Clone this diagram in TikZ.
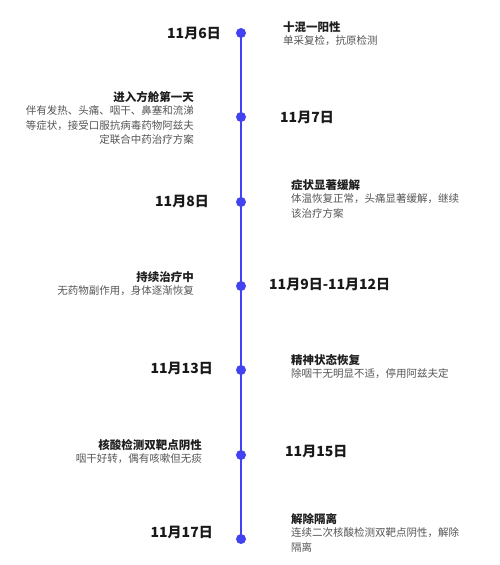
\documentclass[tikz,border=0pt]{standalone}
\usepackage{fontspec}
\setmainfont{Noto Sans CJK SC}
\definecolor{tlblue}{RGB}{66,66,242}
\definecolor{titlec}{RGB}{30,30,30}
\definecolor{bodyc}{RGB}{85,85,85}
\definecolor{datec}{RGB}{25,25,25}
\begin{document}
\begin{tikzpicture}[x=1pt,y=-1pt,
  datelab/.style={font=\fontsize{14}{16}\selectfont\bfseries, text=datec, inner sep=0pt},
  evtitle/.style={font=\fontsize{11.5}{14}\selectfont\bfseries, text=titlec, inner sep=0pt},
  evbody/.style={font=\fontsize{10.5}{14.3}\selectfont, text=bodyc, inner sep=0pt},
  tldot/.style={circle, fill=tlblue, minimum size=10pt, inner sep=0pt}]
\useasboundingbox (0,0) rectangle (500,565);
% dots
\node[tldot] (d1) at (241,33) {};
\node[tldot] (d2) at (241,117) {};
\node[tldot] (d3) at (241,202) {};
\node[tldot] (d4) at (241,286) {};
\node[tldot] (d5) at (241,370) {};
\node[tldot] (d6) at (241,455) {};
\node[tldot] (d7) at (241,539) {};
\draw[tlblue, line width=2.5pt] (d1.center) -- (d7.center);
% dates left
\node[datelab, anchor=east] (t1) at (221,33) {11月6日};
\node[datelab, anchor=east] (t3) at (209,201) {11月8日};
\node[datelab, anchor=east] (t5) at (213,368) {11月13日};
\node[datelab, anchor=east] (t7) at (213,532) {11月17日};
% dates right
\node[datelab, anchor=west] (t2) at (280,117) {11月7日};
\node[datelab, anchor=west] (t4) at (269,284) {11月9日-11月12日};
\node[datelab, anchor=west] (t6) at (285,451) {11月15日};
% right events
\node[evtitle, anchor=west] (r1) at (283,27) {十混一阳性};
\node[evbody, anchor=north west, align=left] (rb1) at ([yshift=-3pt]r1.south west) {单采复检，抗原检测};
\node[evtitle, anchor=west] (r2) at (291,185) {症状显著缓解};
\node[evbody, anchor=north west, align=left] (rb2) at ([yshift=-3pt]r2.south west) {体温恢复正常，头痛显著缓解，继续\\该治疗方案};
\node[evtitle, anchor=west] (r3) at (291,360) {精神状态恢复};
\node[evbody, anchor=north west, align=left] (rb3) at ([yshift=-3pt]r3.south west) {除咽干无明显不适，停用阿兹夫定};
\node[evtitle, anchor=west] (r4) at (291,519) {解除隔离};
\node[evbody, anchor=north west, align=left] (rb4) at ([yshift=-3pt]r4.south west) {连续二次核酸检测双靶点阴性，解除\\隔离};
% left events
\node[evtitle, anchor=east] (l1) at (194,97) {进入方舱第一天};
\node[evbody, anchor=north east, align=right] (lb1) at ([yshift=-3pt]l1.south east) {伴有发热、头痛、咽干、鼻塞和流涕\\等症状，接受口服抗病毒药物阿兹夫\\定联合中药治疗方案};
\node[evtitle, anchor=east] (l2) at (194,277) {持续治疗中};
\node[evbody, anchor=north east, align=right] (lb2) at ([yshift=-3pt]l2.south east) {无药物副作用，身体逐渐恢复};
\node[evtitle, anchor=east] (l3) at (202,445) {核酸检测双靶点阴性};
\node[evbody, anchor=north east, align=right] (lb3) at ([yshift=-3pt]l3.south east) {咽干好转，偶有咳嗽但无痰};
\end{tikzpicture}
\end{document}
